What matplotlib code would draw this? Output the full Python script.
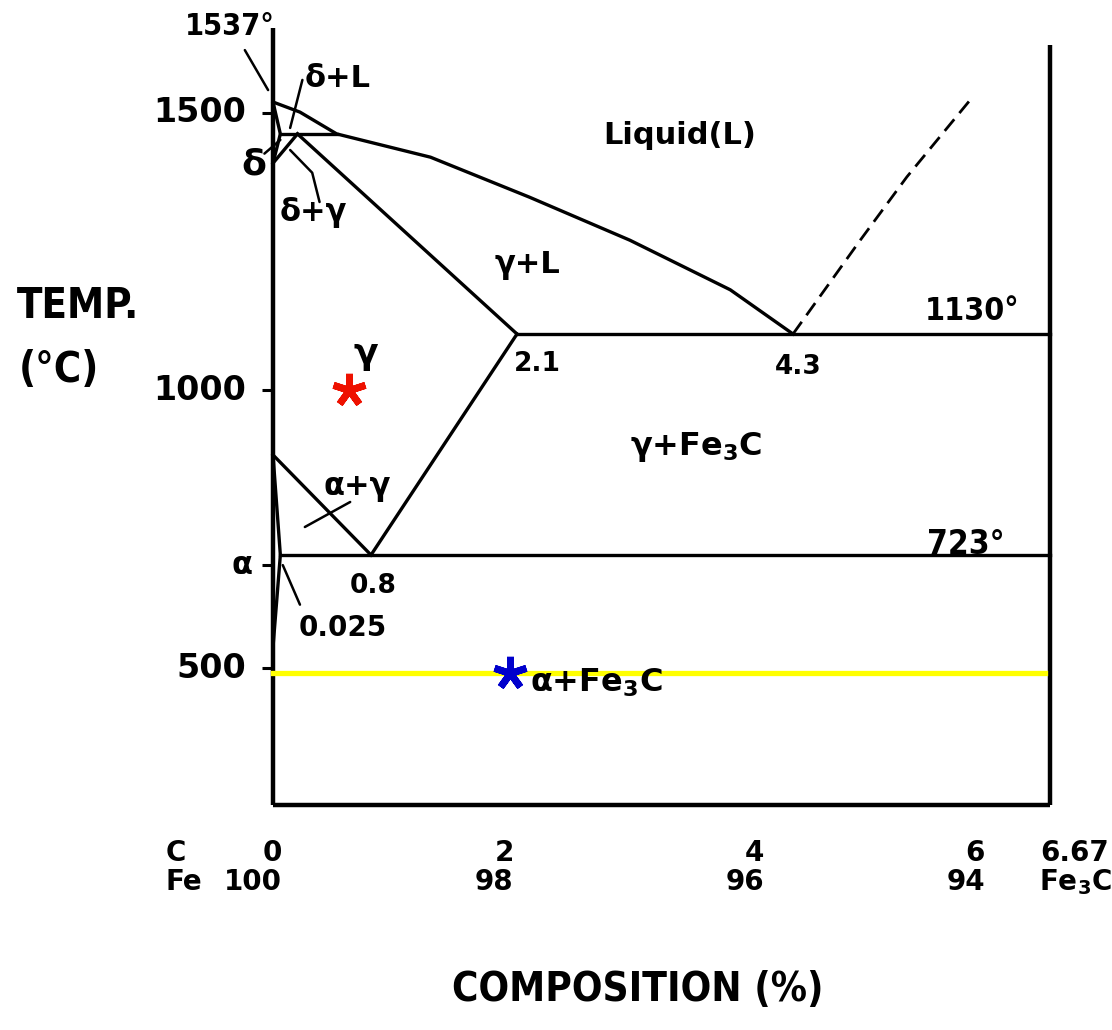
import numpy as np
import matplotlib
matplotlib.use('Agg')
import matplotlib.pyplot as plt

plt.rcParams['mathtext.fontset'] = 'custom'
plt.rcParams['mathtext.rm'] = 'DejaVu Sans:bold'
plt.rcParams['mathtext.it'] = 'DejaVu Sans:bold'
plt.rcParams['mathtext.bf'] = 'DejaVu Sans:bold'

# The sketch is not drawn to a uniform scale, so both axes are calibrated
# piecewise against the labelled values (composition / temperature -> pixel).
X_CAL = [-2.23, 0.0, 0.8, 2.1, 4.3, 6.67, 7.24]
X_PIX = [0, 273, 371, 517, 793, 1050, 1112]
Y_CAL = [-152, 500, 723, 1000, 1130, 1500, 1537, 1708]
Y_PIX = [1030, 668, 555, 390, 334, 113, 102, 0]

# phase boundaries, wt% C vs deg C
liquidus_c = [0.0, 0.22, 0.52, 1.33, 2.2, 3.0, 3.8, 4.3]
liquidus_t = [1537, 1503, 1465, 1426, 1359, 1287, 1204, 1130]
solidus_c = [0.2, 2.1]
solidus_t = [1465, 1130]
delta_c = [0.0, 0.06, 0.0]
delta_t = [1537, 1465, 1416]
delta_gamma_c = [0.2, 0.0]
delta_gamma_t = [1465, 1416]
peritectic_c = [0.06, 0.52]
peritectic_t = [1465, 1465]
a3_c = [0.0, 0.8]
a3_t = [891, 723]
ferrite_c = [0.0, 0.06, 0.0]
ferrite_t = [891, 723, 541]
acm_c = [2.1, 0.8]
acm_t = [1130, 723]
eutectic_c = [2.1, 6.67]
eutectic_t = [1130, 1130]
eutectoid_c = [0.06, 6.67]
eutectoid_t = [723, 723]
cementite_liq_c = [4.3, 4.92, 5.35, 5.95]
cementite_liq_t = [1130, 1287, 1393, 1544]

# frame
left_c, left_t = [0.0, 0.0], [253, 1661]
right_c, right_t = [6.67, 6.67], [253, 1632]
base_c, base_t = [0.0, 6.67], [253, 253]

# temperature ticks
tick_t = [500, 1000, 1500]
tick_labels = ['500', '1000', '1500']
alpha_tick_t = 703

# composition labels under the diagram
comp_ticks = [0, 2, 4, 6]
carbon_labels = ['0', '2', '4', '6']
iron_labels = ['100', '98', '96', '94']

# highlighted states
isotherm_t = 491
isotherm_c = [0.0, 6.62]
red_point = (0.62, 1000)
blue_point = (2.04, 491)

# the hand lettering of the titles is condensed
NARROW = dict(family='DejaVu Sans', fontweight='bold', fontstretch='condensed')
BOLD = dict(family='DejaVu Sans', fontweight='bold')


def piecewise_scale(cal, pix):
    """Return forward/inverse functions mapping data values to image pixels."""
    cal = np.asarray(cal, dtype=float)
    pix = np.asarray(pix, dtype=float)
    if pix[0] > pix[-1]:
        pix = pix.max() - pix  # image rows run downwards

    def forward(v):
        return np.interp(v, cal, pix)

    def inverse(p):
        return np.interp(p, pix, cal)

    return forward, inverse


def leader(ax, xs, ys):
    """Thin pointer line from a label to its region."""
    ax.plot(xs, ys, color='black', lw=1.8, solid_capstyle='round')


fig = plt.figure(figsize=(11.12, 10.30), dpi=100)
ax = fig.add_axes([0, 0, 1, 1])
ax.set_xscale('function', functions=piecewise_scale(X_CAL, X_PIX))
ax.set_yscale('function', functions=piecewise_scale(Y_CAL, Y_PIX))
ax.set_xlim(X_CAL[0], X_CAL[-1])
ax.set_ylim(Y_CAL[0], Y_CAL[-1])
ax.axis('off')

# frame of the diagram
for xs, ys in [(left_c, left_t), (right_c, right_t), (base_c, base_t)]:
    ax.plot(xs, ys, color='black', lw=3.2, solid_capstyle='butt')

# phase boundaries
boundaries = [
    (liquidus_c, liquidus_t), (solidus_c, solidus_t), (delta_c, delta_t),
    (delta_gamma_c, delta_gamma_t), (peritectic_c, peritectic_t),
    (a3_c, a3_t), (ferrite_c, ferrite_t), (acm_c, acm_t),
    (eutectic_c, eutectic_t), (eutectoid_c, eutectoid_t),
]
for xs, ys in boundaries:
    ax.plot(xs, ys, color='black', lw=2.4, solid_joinstyle='miter')
ax.plot(cementite_liq_c, cementite_liq_t, color='black', lw=2.0,
        linestyle=(0, (5.4, 2.9)))

# temperature ticks on the left edge
ax.hlines(tick_t + [alpha_tick_t], -0.09, 0.0, color='black', lw=2.2)
for t, lab in zip(tick_t, tick_labels):
    ax.text(-0.22, t, lab, ha='right', va='center', fontsize=24, **BOLD)
ax.text(-0.25, alpha_tick_t, 'α', ha='center', va='center', fontsize=22, **BOLD)

# isotherm of interest and the two marked states
ax.plot(isotherm_c, [isotherm_t, isotherm_t], color='#ffff00', lw=3.8, zorder=3)
ax.plot(*red_point, marker=(5, 2, 0), ms=24, mew=5, color='#ee1100', zorder=4)
ax.plot(*blue_point, marker=(5, 2, 0), ms=24, mew=5, color='#0000cc', zorder=4)

# region and point labels
ax.text(-0.35, 1663, '1537°', ha='center', va='center', fontsize=22, **NARROW)
leader(ax, [-0.23, -0.04], [1624, 1557])
ax.text(0.53, 1577, 'δ+L', ha='center', va='center', fontsize=22, **BOLD)
leader(ax, [0.24, 0.14], [1574, 1475])
ax.text(-0.16, 1413, 'δ', ha='center', va='center', fontsize=26, **BOLD)
leader(ax, [-0.07, 0.06], [1432, 1455])
ax.text(0.33, 1333, 'δ+γ', ha='center', va='center', fontsize=22, **BOLD)
leader(ax, [0.14, 0.32, 0.38], [1438, 1400, 1351])
ax.text(3.40, 1462, 'Liquid(L)', ha='center', va='center', fontsize=22, **BOLD)
ax.text(2.18, 1244, 'γ+L', ha='center', va='center', fontsize=22, **BOLD)
ax.text(0.76, 1084, 'γ', ha='center', va='center', fontsize=26, **BOLD)
ax.text(2.26, 1060, '2.1', ha='center', va='center', fontsize=19, **BOLD)
ax.text(4.35, 1053, '4.3', ha='center', va='center', fontsize=19, **BOLD)
ax.text(5.95, 1167, '1130°', ha='center', va='center', fontsize=23, **NARROW)
ax.text(3.53, 904, 'γ+Fe$_3$C', ha='center', va='center', fontsize=23, **BOLD)
ax.text(0.69, 836, 'α+γ', ha='center', va='center', fontsize=22, **BOLD)
leader(ax, [0.26, 0.63], [770, 812])
ax.text(5.89, 740, '723°', ha='center', va='center', fontsize=24, **NARROW)
ax.text(0.82, 662, '0.8', ha='center', va='center', fontsize=19, **BOLD)
ax.text(0.57, 579, '0.025', ha='center', va='center', fontsize=20, **BOLD)
leader(ax, [0.08, 0.22], [703, 625])
ax.text(2.2, 473, 'α+Fe$_3$C', ha='left', va='center', fontsize=23, **BOLD)

# axis titles
ax.text(-1.59, 1177, 'TEMP.', ha='center', va='center', fontsize=30, **NARROW)
ax.text(-1.75, 1046, '(°C)', ha='center', va='center', fontsize=30, **NARROW)
ax.text(3.06, -80, 'COMPOSITION (%)', ha='center', va='center', fontsize=29, **NARROW)

# composition scale, C on top and Fe below
ax.text(-0.88, 167, 'C', ha='left', va='center', fontsize=20, **BOLD)
ax.text(-0.88, 114, 'Fe', ha='left', va='center', fontsize=20, **BOLD)
for c, lab_c, lab_fe in zip(comp_ticks, carbon_labels, iron_labels):
    ax.text(c + 0.07, 167, lab_c, ha='right', va='center', fontsize=20, **BOLD)
    ax.text(c + 0.07, 114, lab_fe, ha='right', va='center', fontsize=20, **BOLD)
ax.text(6.9, 167, '6.67', ha='center', va='center', fontsize=20, **BOLD)
ax.text(6.9, 114, 'Fe$_3$C', ha='center', va='center', fontsize=20, **BOLD)

fig.savefig('out.png', dpi=100, facecolor='white')
